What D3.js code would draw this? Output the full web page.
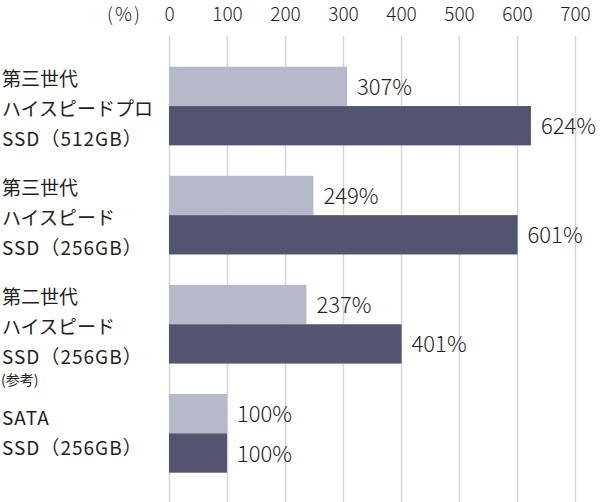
<!DOCTYPE html>
<html>
<head>
<meta charset="utf-8">
<script src="https://cdn.jsdelivr.net/npm/d3@7"></script>
<style>
  body { margin: 0; background: #fff; }
  text { font-family: "Noto Sans CJK JP", "Noto Sans", sans-serif; fill: #231f20; }
</style>
</head>
<body>
<div id="chart"></div>
<script>
// chart data
const categories = ["gen3pro512", "gen3_256", "gen2_256", "sata256"];
const labelLines = [
  ["第三世代", "ハイスピードプロ", "SSD（512GB）"],
  ["第三世代", "ハイスピード", "SSD（256GB）"],
  ["第二世代", "ハイスピード", "SSD（256GB）"],
  ["SATA", "SSD（256GB）"]
];
const notes = ["", "", "(参考)", ""];
const seriesNames = ["light", "dark"];
const lightValues = [307, 249, 237, 100];
const darkValues = [624, 601, 401, 100];
const tickValues = [0, 100, 200, 300, 400, 500, 600, 700];

const width = 600, height = 502;
const numFont = "Roboto, 'Noto Sans', sans-serif";

const svg = d3.select("#chart")
  .append("svg")
    .attr("width", width)
    .attr("height", height);

const x = d3.scaleLinear()
  .domain([0, 700])
  .range([169, 575]);

const y = d3.scaleBand()
  .domain(categories)
  .range([51.5, 487.9])
  .paddingInner(0.279)
  .paddingOuter(0.1395);

const ySub = d3.scaleBand()
  .domain(seriesNames)
  .range([0, y.bandwidth()]);

const color = d3.scaleOrdinal()
  .domain(seriesNames)
  .range(["#b6b9c9", "#535470"]);

// gridlines
svg.append("g")
  .attr("transform", "translate(0,36)")
  .call(d3.axisBottom(x).tickValues(tickValues).tickSize(height - 36).tickFormat(""))
  .call(g => g.select(".domain").remove())
  .call(g => g.selectAll(".tick line").attr("stroke", "#d3d5df").attr("stroke-width", 1.5));

// top tick labels
svg.append("g")
  .attr("transform", "translate(0,20.5)")
  .call(d3.axisTop(x).tickValues(tickValues).tickSize(0).tickPadding(0))
  .call(g => g.select(".domain").remove())
  .call(g => g.selectAll(".tick text")
    .attr("font-size", 19)
    .attr("font-weight", 300)
    .attr("font-family", numFont)
    .attr("fill", "#231f20"));

svg.append("text")
  .attr("x", 142)
  .attr("y", 20.5)
  .attr("text-anchor", "end")
  .attr("font-size", 19)
  .attr("font-weight", 300)
  .attr("font-family", numFont)
  .attr("letter-spacing", 2)
  .text("(%)");

const rows = categories.map((c, i) => ({
  cat: c,
  lines: labelLines[i],
  note: notes[i],
  values: [
    { key: "light", value: lightValues[i] },
    { key: "dark", value: darkValues[i] }
  ]
}));

const group = svg.selectAll("g.row")
  .data(rows)
  .join("g")
    .attr("class", "row")
    .attr("transform", d => `translate(0,${y(d.cat)})`);

group.selectAll("rect")
  .data(d => d.values)
  .join("rect")
    .attr("x", x(0))
    .attr("y", d => ySub(d.key))
    .attr("width", d => x(d.value) - x(0))
    .attr("height", ySub.bandwidth())
    .attr("fill", d => color(d.key));

group.selectAll("text.val")
  .data(d => d.values)
  .join("text")
    .attr("class", "val")
    .attr("x", d => x(d.value) + 10)
    .attr("y", d => ySub(d.key) + ySub.bandwidth() / 2 - 1.5)
    .attr("dominant-baseline", "central")
    .attr("font-size", 22)
    .attr("font-weight", 300)
    .attr("font-family", numFont)
    .text(d => d.value + "%");

// category labels
group.each(function(d) {
  const g = d3.select(this);
  const n = d.lines.length;
  const mid = y.bandwidth() / 2 + (n === 3 ? 1 : -1.5);
  d.lines.forEach((line, i) => {
    g.append("text")
      .attr("x", 2)
      .attr("y", mid + (i - (n - 1) / 2) * 30)
      .attr("dominant-baseline", "central")
      .attr("font-size", 19)
      .attr("letter-spacing", /^[A-Z]/.test(line) ? 1 : 0)
      .text(line);
  });
  if (d.note) {
    g.append("text")
      .attr("x", 1)
      .attr("y", mid + ((n - 1) / 2) * 30 + 24)
      .attr("dominant-baseline", "central")
      .attr("font-size", 14)
      .text(d.note);
  }
});
</script>
</body>
</html>
